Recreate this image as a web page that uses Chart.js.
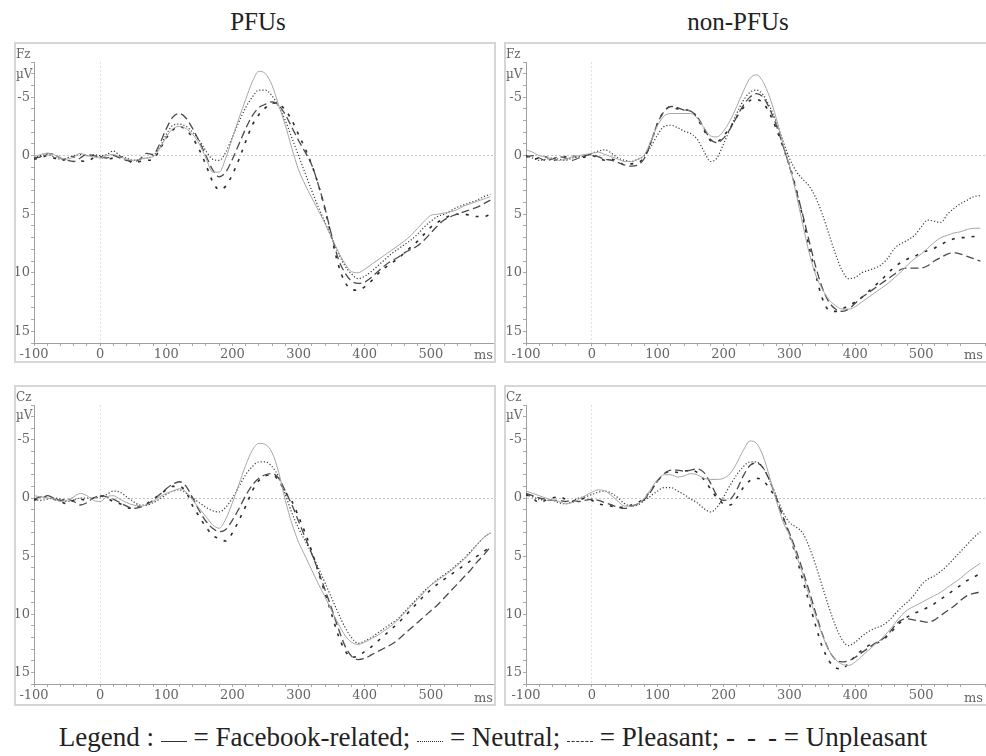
<!DOCTYPE html>
<html>
<head>
<meta charset="utf-8">
<script src="https://cdn.jsdelivr.net/npm/chart.js@4.4.0/dist/chart.umd.min.js"></script>
<style>
body{margin:0;background:#fff;width:986px;height:756px;position:relative;overflow:hidden;font-family:"Liberation Serif",serif;}
.title{position:absolute;top:8px;font-size:25px;line-height:28px;color:#222;transform:translateX(-50%);white-space:nowrap;}
.frame{position:absolute;border:2px solid #d6d6d6;box-sizing:border-box;pointer-events:none;}
canvas{position:absolute;}
.lab{position:absolute;font-family:"DejaVu Serif",serif;font-size:12px;color:#666;line-height:14px;}
#legend{position:absolute;left:0;width:986px;top:722px;line-height:30px;text-align:center;font-size:27px;color:#222;white-space:nowrap;}
.smp{display:inline-block;width:26px;height:0;vertical-align:4px;}
.s1{border-top:1px solid #333;}
.s2{border-top:1px dotted #333;}
.s3{border-top:1px dashed #333;}
.gap{display:inline-block;width:12px;}
</style>
</head>
<body>
<div class="title" style="left:258px">PFUs</div>
<div class="title" style="left:738px">non-PFUs</div>

<canvas id="c1" width="482" height="321" style="left:14px;top:42px"></canvas>
<canvas id="c2" width="482" height="321" style="left:504px;top:42px"></canvas>
<canvas id="c3" width="482" height="321" style="left:14px;top:385px"></canvas>
<canvas id="c4" width="482" height="321" style="left:504px;top:385px"></canvas>

<div class="frame" style="left:14px;top:42px;width:482px;height:321px"></div>
<div class="frame" style="left:504px;top:42px;width:484px;height:321px"></div>
<div class="frame" style="left:14px;top:385px;width:482px;height:321px"></div>
<div class="frame" style="left:504px;top:385px;width:484px;height:321px"></div>

<div class="lab" style="left:16px;top:47px">Fz</div>
<div class="lab" style="left:16px;top:67px">µV</div>
<div class="lab" style="left:506px;top:47px">Fz</div>
<div class="lab" style="left:506px;top:67px">µV</div>
<div class="lab" style="left:16px;top:390px">Cz</div>
<div class="lab" style="left:16px;top:408px">µV</div>
<div class="lab" style="left:506px;top:390px">Cz</div>
<div class="lab" style="left:506px;top:408px">µV</div>

<div class="lab" style="left:474px;top:348px;font-size:13px">ms</div>
<div class="lab" style="left:964px;top:348px;font-size:13px">ms</div>
<div class="lab" style="left:474px;top:691px;font-size:13px">ms</div>
<div class="lab" style="left:964px;top:691px;font-size:13px">ms</div>

<div id="legend">Legend : <span class="smp s1"></span> = Facebook-related; <span class="smp s2"></span> = Neutral; <span class="smp s3"></span> = Pleasant; -<span class="gap"></span>-<span class="gap"></span>- = Unpleasant</div>

<script>
// time axis (ms)
var times = [-100,-90,-80,-70,-60,-50,-40,-30,-20,-10,0,10,20,30,40,50,60,70,80,90,
	100,110,120,130,140,150,160,170,180,190,200,210,220,230,240,250,260,270,280,290,
	300,310,320,330,340,350,360,370,380,390,400,410,420,430,440,450,460,470,480,490,
	500,510,520,530,540,550,560,570,580,590];
var yTickLabels = [-5,0,5,10,15];
var xTickLabels = [-100,0,100,200,300,400,500];
var conditions = ["Facebook-related","Neutral","Pleasant","Unpleasant"];

// Fz - PFUs
var fzPfuFacebook = [0.1,-0.1,-0.2,-0.1,0.2,0.3,0.1,-0.2,0,0.1,
	0.2,0,-0.1,0.1,0.3,0.4,0.3,0.2,0.1,-0.6,
	-1.6,-2.3,-2.5,-2.3,-1.8,-1.0,0.2,1.4,1.4,0.2,
	-1.5,-3.2,-4.8,-6.3,-7.2,-7.0,-6.0,-4.3,-2.6,-0.6,
	1.2,2.5,3.6,4.7,5.8,7.0,8.2,9.2,9.9,10.0,
	9.7,9.3,8.9,8.5,8.1,7.7,7.3,6.8,6.2,5.6,
	5.1,5.0,4.9,4.8,4.6,4.3,4.1,3.9,3.7,3.5];
var fzPfuNeutral = [0.2,0,-0.1,0.1,0.3,0.2,0,-0.1,0,-0.1,
	0,-0.1,-0.4,0,0.2,0.4,0.3,0.2,0,-0.7,
	-1.8,-2.6,-2.7,-2.5,-2.0,-1.3,-0.4,0.3,0.4,-0.3,
	-1.6,-2.9,-4.1,-5.0,-5.6,-5.6,-5.1,-4.2,-3.0,-1.5,
	0,1.5,3.0,4.4,5.7,7.0,8.3,9.4,10.1,10.5,
	10.3,9.9,9.4,8.9,8.4,8.0,7.6,7.2,6.7,6.1,
	5.6,5.2,5.0,4.7,4.4,4.2,4.0,3.8,3.5,3.3];
var fzPfuPleasant = [0.2,0.1,-0.2,-0.1,0.2,0.4,0.5,0.2,-0.1,0,
	0.1,0.2,0,0.2,0.4,0.5,0.3,-0.2,-0.1,-1.0,
	-2.3,-3.3,-3.6,-3.2,-2.3,-1.2,0,1.2,1.8,1.4,
	0.3,-1.0,-2.3,-3.4,-4.1,-4.4,-4.6,-4.3,-3.5,-2.4,
	-1.3,-0.3,0.8,2.5,4.5,6.8,8.8,10.0,10.7,10.9,
	10.8,10.4,9.9,9.4,9.0,8.7,8.3,8.0,7.7,7.2,
	6.6,6.0,5.5,5.2,5.0,4.8,4.6,4.4,4.1,3.8];
var fzPfuUnpleasant = [0.3,0.2,0,0.2,0.4,0.3,0.1,0.4,0.5,0.2,
	0.1,0.3,0.2,0.1,0.3,0.6,0.5,0.4,0.3,-0.5,
	-1.5,-2.2,-2.5,-2.2,-1.5,-0.5,0.8,2.2,2.9,2.6,
	1.6,0.3,-1.2,-2.6,-3.5,-4.1,-4.5,-4.4,-3.9,-3.0,
	-1.8,-0.6,0.8,2.5,4.6,7.0,9.3,10.8,11.4,11.5,
	11.2,10.7,10.1,9.6,9.2,8.8,8.3,7.8,7.3,6.7,
	6.1,5.7,5.4,5.1,5.0,5.0,5.1,5.2,5.2,5.0];

// Fz - non-PFUs
var fzNonFacebook = [-0.5,-0.3,0,0.1,0.3,0.4,0.3,0.1,0,-0.1,
	-0.2,-0.3,-0.1,0.1,0.3,0.5,0.5,0.3,-0.1,-1.3,
	-2.6,-3.4,-3.6,-3.6,-3.6,-3.6,-3.2,-2.4,-1.7,-1.6,
	-2.1,-3.0,-4.2,-5.5,-6.6,-6.9,-6.3,-5.0,-3.2,-1.1,
	0.8,3.2,5.8,8.3,10.2,11.4,12.3,12.8,13.1,13.1,
	12.9,12.5,12.1,11.7,11.3,10.9,10.4,9.9,9.3,8.8,
	8.4,7.9,7.4,7.0,6.8,6.6,6.5,6.3,6.2,6.2];
var fzNonNeutral = [0,0.2,0.4,0.3,0.2,0.3,0.4,0.2,0.1,0,
	-0.2,-0.4,-0.5,-0.2,0.2,0.4,0.5,0.3,0,-0.8,
	-1.8,-2.5,-2.6,-2.4,-2.1,-1.9,-1.4,-0.4,0.5,0.2,
	-1.0,-2.3,-3.6,-4.7,-5.4,-5.6,-5.2,-4.2,-2.9,-1.3,
	0.2,1.3,2.0,2.6,3.6,5.0,6.7,8.4,9.8,10.5,
	10.4,10.0,9.8,9.6,9.3,8.7,7.9,7.5,7.2,6.8,
	6.1,5.5,5.6,5.7,5.0,4.5,4.1,3.8,3.5,3.4];
var fzNonPleasant = [0.1,0,0.2,0.4,0.3,0.1,0.2,0.4,0.2,0,
	-0.1,0.1,0.3,0.4,0.6,0.8,0.9,0.8,0.2,-1.2,
	-2.8,-3.8,-4.2,-4.1,-3.9,-3.8,-3.3,-2.4,-1.4,-1.1,
	-1.5,-2.3,-3.3,-4.3,-5.0,-5.3,-5.0,-4.0,-2.6,-0.9,
	0.9,2.9,5.0,7.3,9.5,11.3,12.5,13.1,13.3,13.1,
	12.6,12.1,11.7,11.3,10.9,10.5,10.1,9.7,9.6,9.6,
	9.6,9.4,9.0,8.7,8.4,8.3,8.4,8.6,8.8,9.0];
var fzNonUnpleasant = [0,0.3,0.2,0.1,0.4,0.3,0.1,0,0.2,0.1,
	0,0.2,0.4,0.3,0.5,0.8,0.7,0.6,0.1,-1.2,
	-2.8,-3.8,-4.2,-4.0,-3.9,-3.9,-3.2,-2.2,-1.3,-1.2,
	-1.7,-2.4,-3.3,-4.1,-4.7,-4.8,-4.5,-3.6,-2.3,-0.8,
	0.8,2.8,5.2,7.8,10.2,12.2,13.2,13.3,13.1,12.8,
	12.5,12.1,11.6,11.1,10.6,10.0,9.5,9.1,8.8,8.6,
	8.3,8.1,7.9,7.6,7.3,7.1,7.0,7.0,6.9,6.9];

// Cz - PFUs
var czPfuFacebook = [-0.2,-0.1,0,0.1,0.3,0.2,-0.1,-0.4,-0.2,0.2,
	0.3,-0.1,-0.2,0.1,0.4,0.6,0.7,0.6,0.3,-0.1,
	-0.4,-0.6,-0.8,-0.5,0.2,0.9,1.6,2.3,2.6,1.8,
	0.4,-1.2,-2.8,-4.1,-4.7,-4.6,-3.9,-2.2,0.2,2.2,
	3.8,5.0,6.2,7.4,8.5,9.7,10.8,11.8,12.4,12.6,
	12.4,12.1,11.8,11.4,11.0,10.5,9.9,9.3,8.7,8.1,
	7.5,7.1,6.7,6.3,5.8,5.3,4.7,4.0,3.4,3.0];
var czPfuNeutral = [0.1,0.2,0.1,0,0.1,0.3,0.2,0,0,0,
	-0.1,-0.3,-0.6,-0.5,-0.1,0.3,0.6,0.6,0.4,0.1,
	-0.3,-0.6,-0.7,-0.4,0,0.4,0.8,1.1,1.2,0.8,
	0,-1.0,-2.0,-2.7,-3.1,-3.1,-2.7,-1.8,-0.3,1.3,
	2.6,3.7,4.8,6.0,7.3,8.6,9.9,11.1,12.0,12.5,
	12.3,12.0,11.6,11.2,10.8,10.4,9.8,9.2,8.6,8.0,
	7.5,7.0,6.6,6.2,5.7,5.2,4.6,4.0,3.4,3.0];
var czPfuPleasant = [0.1,-0.1,-0.2,0,0.2,0.1,0.3,0.6,0.4,0,
	-0.2,-0.1,0.1,0.4,0.7,0.9,0.8,0.6,0.2,-0.3,
	-0.8,-1.2,-1.4,-1.0,0,1.1,2.0,2.6,2.9,2.7,
	1.9,0.9,-0.2,-1.1,-1.7,-2.0,-2.1,-1.7,-0.6,0.6,
	2.0,3.4,4.8,6.3,7.9,9.5,11.2,12.7,13.6,13.9,
	13.8,13.5,13.2,12.9,12.6,12.2,11.7,11.2,10.7,10.2,
	9.7,9.2,8.6,8.0,7.4,6.8,6.2,5.5,4.9,4.2];
var czPfuUnpleasant = [0.2,0,-0.1,0.1,0.3,0.5,0.2,0.1,0.2,0,
	-0.2,0,0.3,0.5,0.8,0.9,0.7,0.5,0.1,-0.3,
	-0.7,-1.0,-1.0,-0.5,0.7,1.6,2.5,3.2,3.5,3.7,
	3.0,1.9,0.7,-0.6,-1.5,-1.9,-2.0,-1.5,-0.5,0.3,
	1.6,3.0,4.6,6.4,8.2,10.0,11.8,13.1,13.7,13.6,
	13.2,12.8,12.3,11.8,11.3,10.8,10.2,9.6,9.0,8.4,
	7.9,7.4,7.0,6.6,6.2,5.8,5.4,5.0,4.6,4.2];

// Cz - non-PFUs
var czNonFacebook = [-0.6,-0.4,-0.2,0,0.2,0.3,0.5,0.4,0.1,-0.2,
	-0.5,-0.7,-0.6,-0.2,0.3,0.7,0.7,0.5,0,-0.8,
	-1.6,-2.0,-2.0,-1.8,-1.9,-2.1,-2.0,-1.7,-1.6,-1.6,
	-1.7,-2.1,-3.0,-4.1,-4.9,-4.7,-3.6,-1.8,0.2,2.0,
	3.2,4.8,6.5,8.4,10.2,11.8,13.1,13.9,14.3,14.4,
	14.1,13.6,13.1,12.6,12.1,11.5,10.8,10.1,9.6,9.3,
	9.0,8.7,8.4,8.1,7.7,7.3,6.9,6.4,6.0,5.6];
var czNonNeutral = [-0.3,-0.1,0.1,0.2,0.2,0.4,0.5,0.3,0,-0.1,
	-0.3,-0.5,-0.6,-0.4,0,0.5,0.7,0.6,0.2,-0.2,
	-0.6,-0.9,-0.9,-0.6,-0.3,0.1,0.4,0.9,1.2,0.8,
	-0.1,-1.1,-2.0,-2.7,-3.1,-3.1,-2.6,-1.5,-0.2,1.2,
	2.1,2.5,3.0,4.2,5.8,7.6,9.4,11.0,12.2,12.7,
	12.4,11.9,11.5,11.2,11.0,10.6,10.0,9.4,8.9,8.3,
	7.5,7.0,6.7,6.3,5.8,5.2,4.6,4.0,3.4,2.9];
var czNonPleasant = [-0.4,-0.2,0,0.1,0.2,0.2,0.3,0.2,0.3,0.2,
	0.1,0.2,0.4,0.6,0.8,0.9,0.7,0.5,0.1,-0.6,
	-1.5,-2.1,-2.4,-2.4,-2.3,-2.4,-2.5,-2.2,-1.3,-0.2,
	0.2,0.1,-0.7,-1.9,-2.8,-3.0,-2.6,-1.5,0,1.6,
	3.0,4.5,6.2,8.0,9.9,11.7,13.1,13.9,14.1,14.0,
	13.7,13.3,12.9,12.5,12.2,11.7,11.0,10.5,10.4,10.5,
	10.6,10.7,10.5,10.1,9.7,9.3,8.8,8.4,8.2,8.1];
var czNonUnpleasant = [-0.3,0,0.4,0.2,0,-0.1,0.1,0.3,0.2,0,
	0.2,0.5,0.6,0.7,0.8,0.8,0.6,0.4,0,-0.7,
	-1.5,-2.1,-2.3,-2.2,-2.3,-2.4,-2.2,-1.6,-0.8,0,
	0.5,0.6,0,-0.9,-1.5,-1.7,-1.5,-0.8,0.1,1.6,
	3.2,5.0,7.0,9.0,11.0,12.8,14.0,14.6,14.7,14.2,
	13.6,13.1,12.7,12.5,12.3,11.8,11.2,10.6,10.2,9.9,
	9.7,9.4,9.1,8.7,8.3,7.9,7.5,7.1,6.8,6.5];

// line looks per condition
var lineColors = ["#a6a6a6","#3a3a3a","#4a4a4a","#2a2a2a"];
var lineWidths = [1,1.2,1.3,1.6];
var lineDash = [[],[1.2,2],[8,4],[3,7]];

function pts(vals){
	return times.map(function(t,i){ return {x:t, y:vals[i]}; });
}

// grid lines (only the zero line is visible) are dotted, the axis line itself stays solid
function gridDash(c){ return c.tick ? [2,2] : []; }

function makeChart(id, series, yAxisW, xAxisH){
	var sets = [];
	for (var i = 0; i < series.length; i++) {
		sets.push({
			label: conditions[i],
			data: pts(series[i]),
			borderColor: lineColors[i],
			borderWidth: lineWidths[i],
			borderDash: lineDash[i],
			pointRadius: 0,
			fill: false,
			cubicInterpolationMode: 'monotone'
		});
	}
	var tickFont = {family: "DejaVu Serif", size: 13};
	return new Chart(document.getElementById(id), {
		type: 'line',
		data: {datasets: sets},
		options: {
			responsive: false,
			animation: false,
			layout: {padding: {top: 20, left: 0, right: 0, bottom: 0}},
			plugins: {legend: {display: false}, tooltip: {enabled: false}},
			scales: {
				x: {
					type: 'linear', min: -100, max: 597,
					afterFit: function(s){ s.height = xAxisH; },
					ticks: {
						stepSize: 20, autoSkip: false, maxRotation: 0, padding: 1,
						color: "#666", font: tickFont,
						callback: function(v){ return xTickLabels.indexOf(v) >= 0 ? v : ''; }
					},
					grid: {
						color: function(c){ return c.tick && c.tick.value === 0 ? '#e2e2e2' : 'rgba(0,0,0,0)'; },
						tickColor: '#aaa', tickLength: 3
					},
					border: {color: '#a0a0a0', width: 1, dash: gridDash}
				},
				y: {
					reverse: true, min: -8, max: 16,
					afterFit: function(s){ s.width = yAxisW; },
					ticks: {
						stepSize: 1, autoSkip: false, padding: 1,
						color: "#666", font: tickFont,
						callback: function(v){ return yTickLabels.indexOf(v) >= 0 ? v : ''; }
					},
					grid: {
						color: function(c){ return c.tick && c.tick.value === 0 ? '#c4c4c4' : 'rgba(0,0,0,0)'; },
						tickColor: '#aaa', tickLength: 3
					},
					border: {color: '#a0a0a0', width: 1, dash: gridDash}
				}
			}
		}
	});
}

makeChart("c1", [fzPfuFacebook, fzPfuNeutral, fzPfuPleasant, fzPfuUnpleasant], 20, 20);
makeChart("c2", [fzNonFacebook, fzNonNeutral, fzNonPleasant, fzNonUnpleasant], 22, 20);
makeChart("c3", [czPfuFacebook, czPfuNeutral, czPfuPleasant, czPfuUnpleasant], 20, 22);
makeChart("c4", [czNonFacebook, czNonNeutral, czNonPleasant, czNonUnpleasant], 22, 22);
</script>
</body>
</html>
